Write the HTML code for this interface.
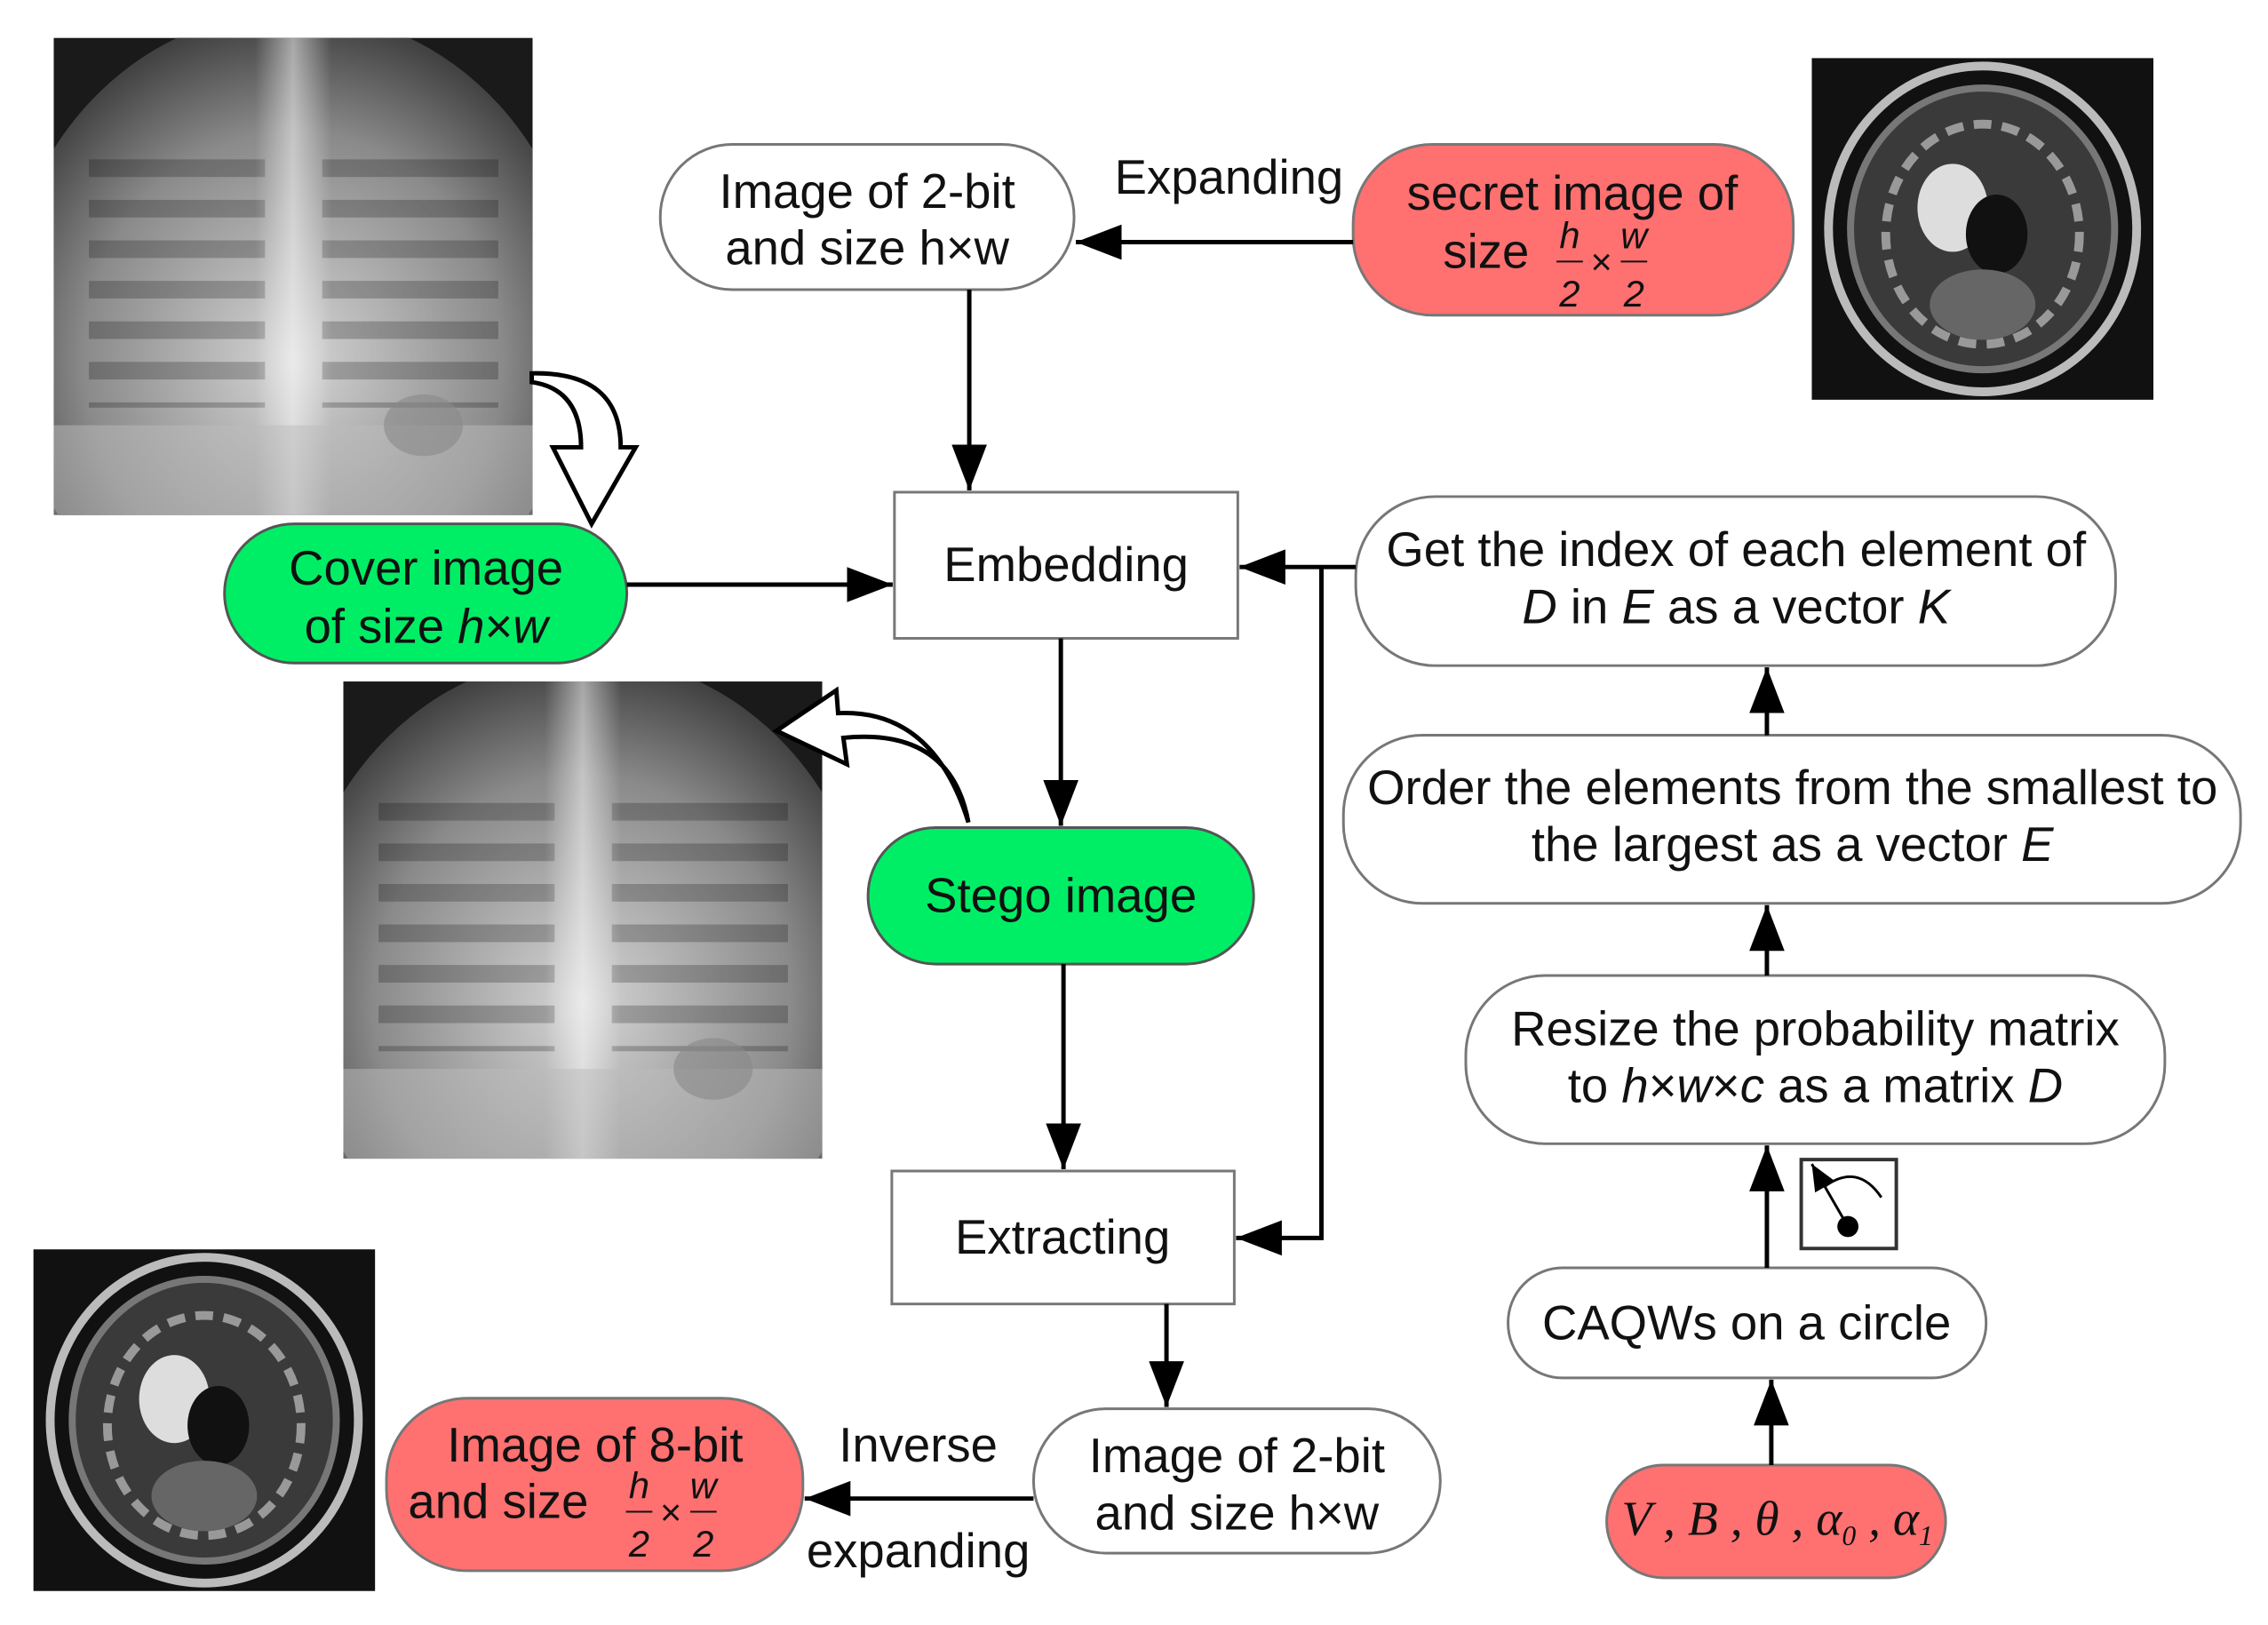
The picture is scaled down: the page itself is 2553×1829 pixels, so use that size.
<!DOCTYPE html>
<html><head><meta charset="utf-8"><style>
html,body{margin:0;padding:0;background:#fff;}
svg{display:block;}
text{font-family:"Liberation Sans",sans-serif;}
.t{font-size:55px;fill:#111;text-anchor:middle;}
.m{font-family:"Liberation Serif",serif;font-style:italic;}
</style></head><body>
<svg width="2553" height="1829" viewBox="0 0 2553 1829" xmlns="http://www.w3.org/2000/svg">
<defs>
<marker id="a" markerWidth="52" markerHeight="40" refX="10" refY="5" orient="auto" markerUnits="userSpaceOnUse" viewBox="0 0 10 10" preserveAspectRatio="none"><path d="M0,0 L10,5 L0,10z" fill="#000"/></marker>
<marker id="b" markerWidth="30" markerHeight="26" refX="10" refY="5" orient="auto" markerUnits="userSpaceOnUse" viewBox="0 0 10 10" preserveAspectRatio="none"><path d="M0,0 L10,5 L0,10z" fill="#000"/></marker>
<clipPath id="cc"><rect width="544" height="542"/></clipPath>
<radialGradient id="xr" cx="50%" cy="55%" r="60%"><stop offset="0" stop-color="#d5d5d5"/><stop offset="0.6" stop-color="#8a8a8a"/><stop offset="1" stop-color="#2a2a2a"/></radialGradient>
<linearGradient id="sp" x1="0" x2="1"><stop offset="0" stop-color="#000" stop-opacity="0"/><stop offset="0.42" stop-color="#fff" stop-opacity="0"/><stop offset="0.5" stop-color="#fff" stop-opacity="0.5"/><stop offset="0.58" stop-color="#fff" stop-opacity="0"/><stop offset="1" stop-color="#000" stop-opacity="0"/></linearGradient>
<pattern id="rib" width="40" height="46" patternUnits="userSpaceOnUse"><rect y="0" width="40" height="20" fill="#000" opacity="0.22"/></pattern>
<g id="chest">
<g clip-path="url(#cc)">
<rect width="544" height="542" fill="#1a1a1a"/>
<ellipse cx="272" cy="330" rx="330" ry="360" fill="url(#xr)"/>
<rect x="40" y="120" width="200" height="300" fill="url(#rib)"/>
<rect x="305" y="120" width="200" height="300" fill="url(#rib)"/>
<rect width="544" height="542" fill="url(#sp)"/>
<rect y="440" width="544" height="102" fill="#bbb" opacity="0.5"/>
<ellipse cx="420" cy="440" rx="45" ry="35" fill="#888" opacity="0.6"/>
</g>
</g>
<g id="mri">
<rect width="388" height="388" fill="#111"/>
<ellipse cx="194" cy="194" rx="175" ry="185" fill="none" stroke="#bbb" stroke-width="10"/>
<ellipse cx="194" cy="194" rx="150" ry="160" fill="#3a3a3a" stroke="#777" stroke-width="8"/>
<ellipse cx="194" cy="200" rx="110" ry="125" fill="none" stroke="#999" stroke-width="10" stroke-dasharray="20 12"/>
<ellipse cx="160" cy="170" rx="40" ry="50" fill="#ddd"/>
<ellipse cx="210" cy="200" rx="35" ry="45" fill="#111"/>
<ellipse cx="194" cy="280" rx="60" ry="40" fill="#666"/>
</g>
</defs>
<g transform="scale(0.991)">
<use href="#chest" x="61" y="43"/>
<use href="#chest" x="390" y="774"/>
<use href="#mri" x="2058" y="66"/>
<use href="#mri" x="38" y="1419"/>

<path d="M604,424 Q705,422 705,508 L722,508 L672,595 L628,508 L660,508 Q660,442 604,434 Z" fill="#fff" stroke="#000" stroke-width="5" stroke-linejoin="miter"/>
<path d="M1100,934 Q1080,826 958,838 L962,868 L882,830 L950,784 L952,810 Q1060,805 1100,934 Z" fill="#fff" stroke="#000" stroke-width="5"/>

<rect x="750" y="164" width="470" height="165" rx="82" fill="#fff" stroke="#777" stroke-width="3"/>
<text class="t" x="985" y="236">Image of 2-bit</text>
<text class="t" x="985" y="300">and size h×w</text>

<rect x="1537" y="164" width="500" height="194" rx="90" fill="#ff7070" stroke="#777" stroke-width="3"/>
<text class="t" x="1786" y="238">secret image of</text>
<text class="t" x="1688" y="304">size</text>
<g class="m" font-size="42" fill="#111" text-anchor="middle">
<text x="1783" y="282">h</text><text x="1783" y="348">2</text>
<text x="1856" y="282">w</text><text x="1856" y="348">2</text>
<text x="1819" y="312" font-style="normal">×</text>
</g>
<line x1="1768" y1="297" x2="1798" y2="297" stroke="#111" stroke-width="2"/>
<line x1="1841" y1="297" x2="1871" y2="297" stroke="#111" stroke-width="2"/>

<text class="t" x="1396" y="220">Expanding</text>

<rect x="1016" y="559" width="390" height="166" fill="#fff" stroke="#777" stroke-width="3"/>
<text class="t" x="1211" y="660">Embedding</text>

<rect x="255" y="595" width="457" height="158" rx="79" fill="#00ee66" stroke="#555" stroke-width="3"/>
<text class="t" x="484" y="664">Cover image</text>
<text class="t" x="484" y="730">of size <tspan font-style="italic">h</tspan>×<tspan font-style="italic">w</tspan></text>

<rect x="1540" y="564" width="863" height="192" rx="90" fill="#fff" stroke="#777" stroke-width="3"/>
<text class="t" x="1972" y="643">Get the index of each element of</text>
<text class="t" x="1972" y="708"><tspan font-style="italic">D</tspan>  in <tspan font-style="italic">E</tspan> as a vector <tspan font-style="italic">K</tspan></text>

<rect x="1526" y="835" width="1019" height="191" rx="90" fill="#fff" stroke="#777" stroke-width="3"/>
<text class="t" x="2036" y="913">Order the elements from the smallest to</text>
<text class="t" x="2036" y="978">the largest as a vector <tspan font-style="italic">E</tspan></text>

<rect x="1665" y="1108" width="794" height="191" rx="90" fill="#fff" stroke="#777" stroke-width="3"/>
<text class="t" x="2062" y="1187">Resize the probability matrix</text>
<text class="t" x="2062" y="1252">to <tspan font-style="italic">h</tspan>×<tspan font-style="italic">w</tspan>×<tspan font-style="italic">c</tspan> as a matrix <tspan font-style="italic">D</tspan></text>

<rect x="1713" y="1440" width="543" height="125" rx="62" fill="#fff" stroke="#777" stroke-width="3"/>
<text class="t" x="1984" y="1521">CAQWs on a circle</text>

<rect x="1825" y="1664" width="385" height="128" rx="64" fill="#ff7070" stroke="#777" stroke-width="3"/>
<text class="m" x="1842" y="1743" font-size="56" fill="#111">V , B , θ , α<tspan font-size="32" dy="12">0</tspan><tspan dy="-12"> , α</tspan><tspan font-size="32" dy="12">1</tspan></text>

<rect x="2046" y="1317" width="108" height="101" fill="#fff" stroke="#333" stroke-width="4"/>
<path d="M2072,1348 Q2110,1320 2137,1360" fill="none" stroke="#000" stroke-width="3"/>
<line x1="2099" y1="1393" x2="2058" y2="1322" stroke="#000" stroke-width="3" marker-end="url(#b)"/>
<circle cx="2099" cy="1393" r="12" fill="#000"/>

<rect x="986" y="940" width="438" height="155" rx="77" fill="#00ee66" stroke="#555" stroke-width="3"/>
<text class="t" x="1205" y="1036">Stego image</text>

<rect x="1013" y="1330" width="389" height="151" fill="#fff" stroke="#777" stroke-width="3"/>
<text class="t" x="1207" y="1424">Extracting</text>

<rect x="1174" y="1600" width="462" height="164" rx="82" fill="#fff" stroke="#777" stroke-width="3"/>
<text class="t" x="1405" y="1672">Image of 2-bit</text>
<text class="t" x="1405" y="1737">and size h×w</text>

<rect x="439" y="1588" width="473" height="196" rx="92" fill="#ff7070" stroke="#777" stroke-width="3"/>
<text class="t" x="676" y="1660">Image of 8-bit</text>
<text class="t" x="566" y="1724">and size</text>
<g class="m" font-size="42" fill="#111" text-anchor="middle">
<text x="726" y="1702">h</text><text x="726" y="1768">2</text>
<text x="799" y="1702">w</text><text x="799" y="1768">2</text>
<text x="762" y="1732" font-style="normal">×</text>
</g>
<line x1="711" y1="1717" x2="741" y2="1717" stroke="#111" stroke-width="2"/>
<line x1="784" y1="1717" x2="814" y2="1717" stroke="#111" stroke-width="2"/>

<text class="t" x="1043" y="1660">Inverse</text>
<text class="t" x="1043" y="1780">expanding</text>

<g stroke="#000" stroke-width="5" fill="none">
<line x1="1537" y1="275" x2="1222" y2="275" marker-end="url(#a)"/>
<line x1="1101" y1="329" x2="1101" y2="557" marker-end="url(#a)"/>
<line x1="712" y1="664" x2="1014" y2="664" marker-end="url(#a)"/>
<line x1="1540" y1="644" x2="1408" y2="644" marker-end="url(#a)"/>
<polyline points="1501,644 1501,1406 1404,1406" marker-end="url(#a)"/>
<line x1="1205" y1="725" x2="1205" y2="938" marker-end="url(#a)"/>
<line x1="1208" y1="1095" x2="1208" y2="1328" marker-end="url(#a)"/>
<line x1="1325" y1="1481" x2="1325" y2="1598" marker-end="url(#a)"/>
<line x1="1174" y1="1702" x2="914" y2="1702" marker-end="url(#a)"/>
<line x1="2007" y1="835" x2="2007" y2="758" marker-end="url(#a)"/>
<line x1="2007" y1="1108" x2="2007" y2="1028" marker-end="url(#a)"/>
<line x1="2007" y1="1440" x2="2007" y2="1301" marker-end="url(#a)"/>
<line x1="2012" y1="1664" x2="2012" y2="1567" marker-end="url(#a)"/>
</g>
</g>
</svg>
</body></html>
